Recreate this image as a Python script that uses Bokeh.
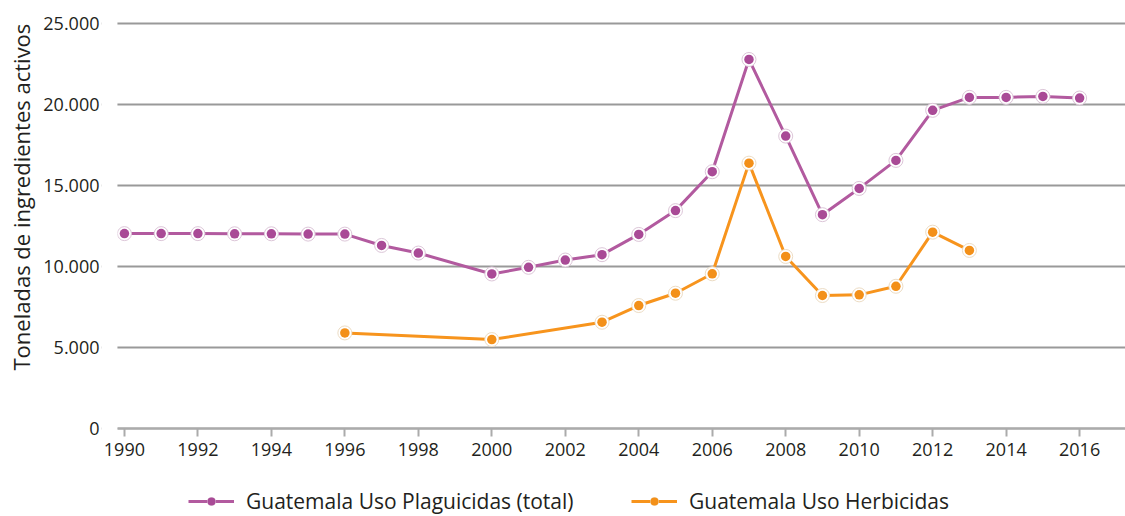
from bokeh.plotting import figure
from bokeh.models import Range1d, FixedTicker, Legend, LegendItem, Title, BoxAnnotation
from bokeh.embed import file_html
from bokeh.resources import INLINE

# ---- data ----
years_total = [1990, 1991, 1992, 1993, 1994, 1995, 1996, 1997, 1998,
               2000, 2001, 2002, 2003, 2004, 2005, 2006, 2007, 2008,
               2009, 2010, 2011, 2012, 2013, 2014, 2015, 2016]
total = [12030, 12030, 12030, 12020, 12020, 12000, 12000, 11300, 10830,
         9540, 9950, 10400, 10730, 11980, 13450, 15850, 22780, 18050,
         13200, 14820, 16550, 19640, 20440, 20440, 20500, 20400]

years_herb = [1996, 2000, 2003, 2004, 2005, 2006, 2007, 2008, 2009,
              2010, 2011, 2012, 2013]
herb = [5900, 5490, 6560, 7590, 8350, 9550, 16380, 10620, 8210,
        8250, 8780, 12120, 10990]

y_ticks = [0, 5000, 10000, 15000, 20000, 25000]
y_labels = ["0", "5.000", "10.000", "15.000", "20.000", "25.000"]
x_ticks = list(range(1990, 2017, 2))

label_total = "Guatemala Uso Plaguicidas (total)"
label_herb = "Guatemala Uso Herbicidas"
y_title = "Toneladas de ingredientes activos"

PURPLE = "#A94A96"
PURPLE_LINE = "#B25A9F"
ORANGE = "#F39019"
ORANGE_LINE = "#F7941D"
FONT = "Open Sans"
TXT = "#231F20"

X_START, X_END = 1989.376, 2017.249
GRID_START = 1989.81   # where the horizontal rules begin

p = figure(width=1125, height=516, output_backend="svg",
           toolbar_location=None, x_range=Range1d(X_START, X_END),
           y_range=Range1d(-5432, 26420), min_border_left=98,
           min_border_top=0, min_border_right=0, min_border_bottom=0)
p.outline_line_color = None
p.background_fill_color = "white"

# y axis (left panel)
p.yaxis.ticker = FixedTicker(ticks=y_ticks)
p.yaxis.major_label_overrides = {t: l for t, l in zip(y_ticks, y_labels)}
p.yaxis.axis_line_color = None
p.yaxis.major_tick_line_color = None
p.yaxis.minor_tick_line_color = None
p.yaxis.major_tick_out = 0
p.yaxis.major_tick_in = 0
p.yaxis.minor_tick_out = 0
p.yaxis.major_label_text_font = FONT
p.yaxis.major_label_text_font_size = "18px"
p.yaxis.major_label_text_color = TXT
p.yaxis.major_label_standoff = 2

p.add_layout(Title(text=y_title, align="left", offset=146, standoff=8,
                   vertical_align="middle",
                   text_font=FONT, text_font_size="22px",
                   text_font_style="normal", text_color=TXT), "left")

# x axis fixed at y = 0
p.xaxis.fixed_location = 0
p.xaxis.bounds = (GRID_START, X_END)
p.xaxis.ticker = FixedTicker(ticks=x_ticks)
p.xaxis.axis_line_color = "#ababab"
p.xaxis.axis_line_width = 2
p.xaxis.major_tick_line_color = "#ababab"
p.xaxis.major_tick_line_width = 2
p.xaxis.major_tick_in = 0
p.xaxis.major_tick_out = 8
p.xaxis.minor_tick_line_color = None
p.xaxis.major_label_text_font = FONT
p.xaxis.major_label_text_font_size = "18px"
p.xaxis.major_label_text_color = TXT
p.xaxis.major_label_standoff = 6

p.xgrid.grid_line_color = None
p.ygrid.grid_line_color = "#999999"
p.ygrid.grid_line_width = 2

# keep the rules starting right of the tick labels
p.add_layout(BoxAnnotation(right=GRID_START, bottom=-300, fill_color="white",
                           fill_alpha=1.0, line_color=None))

# series
l1 = p.line(years_total, total, line_color=PURPLE_LINE, line_width=3)
o1 = p.scatter(years_total, total, size=14, fill_color="white",
               line_color="#dcc6d8", line_width=1)
i1 = p.scatter(years_total, total, size=9.5, fill_color=PURPLE, line_color=None)

l2 = p.line(years_herb, herb, line_color=ORANGE_LINE, line_width=3)
o2 = p.scatter(years_herb, herb, size=14, fill_color="white",
               line_color="#ecdcc4", line_width=1)
i2 = p.scatter(years_herb, herb, size=9.5, fill_color=ORANGE, line_color=None)

legend = Legend(items=[LegendItem(label=label_total, renderers=[l1, o1, i1]),
                       LegendItem(label=label_herb, renderers=[l2, o2, i2])],
                orientation="horizontal", location=(87, 1),
                label_text_font=FONT, label_text_font_size="21px",
                label_text_color=TXT, glyph_width=46, glyph_height=20,
                spacing=28, label_standoff=12, label_width=357,
                border_line_color=None, background_fill_alpha=0,
                padding=2, margin=0)
p.add_layout(legend, "center")

open("out.html", "w").write(file_html(p, INLINE))
